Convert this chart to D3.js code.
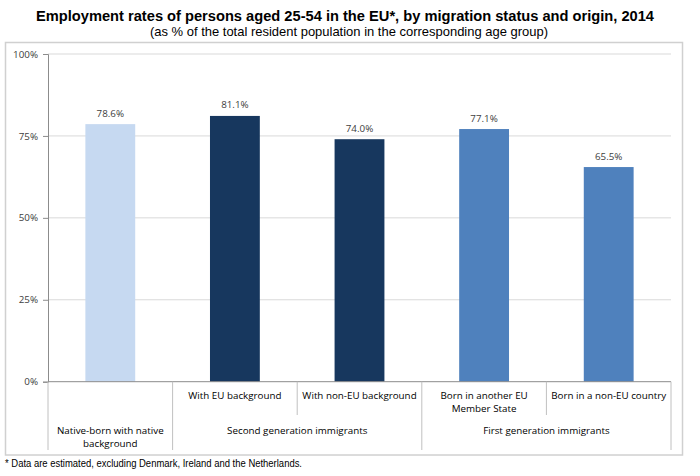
<!DOCTYPE html>
<html><head><meta charset="utf-8">
<script src="https://cdn.jsdelivr.net/npm/d3@7/dist/d3.min.js"></script>
<style>
body{margin:0;background:#fff;}
svg text{font-family:"Open Sans","Noto Sans",sans-serif;}
</style></head>
<body><svg id="c" width="700" height="476"></svg>
<script>
const categories = [["Native-born with native","background"],["With EU background"],["With non-EU background"],["Born in another EU","Member State"],["Born in a non-EU country"]];
const values = [78.6, 81.1, 74.0, 77.1, 65.5];
const colors = ["#c6d9f1", "#17375e", "#17375e", "#4f81bd", "#4f81bd"];
const groups = ["Second generation immigrants", "First generation immigrants"];
const groupStart = [1, 3];
const groupSpan = [2, 2];
const yTicks = [0, 25, 50, 75, 100];

const svg = d3.select("#c");
const m = {l:48, r:671, t:54, b:381.7};
const FS = "9.8px";

svg.append("text").attr("x",345).attr("y",20.5).attr("text-anchor","middle")
  .style("font-family","Liberation Sans, Arial, sans-serif").style("font-weight","bold").style("font-size","14.5px").attr("fill","#000")
  .attr("textLength",618).attr("lengthAdjust","spacingAndGlyphs")
  .text("Employment rates of persons aged 25-54 in the EU*, by migration status and origin, 2014");
svg.append("text").attr("x",349).attr("y",36).attr("text-anchor","middle")
  .style("font-family","Liberation Sans, Arial, sans-serif").style("font-size","13px").attr("fill","#000")
  .attr("textLength",398).attr("lengthAdjust","spacingAndGlyphs")
  .text("(as % of the total resident population in the corresponding age group)");

// outer box
svg.append("rect").attr("x",5.5).attr("y",42.5).attr("width",677).attr("height",412.5)
  .attr("fill","none").attr("stroke","#d0d0d0").attr("stroke-width",1.5);

const idx = d3.range(values.length);
const x = d3.scaleBand().domain(idx).range([m.l, m.r]).paddingInner(0.6).paddingOuter(0.3);
const y = d3.scaleLinear().domain([0,100]).range([m.b, m.t]);
const step = x.step();

// gridlines
svg.append("g").selectAll("line").data(yTicks.filter(d=>d>0)).join("line")
  .attr("x1",m.l).attr("x2",m.r).attr("y1",d=>y(d)).attr("y2",d=>y(d))
  .attr("stroke","#d9d9d9").attr("stroke-width",1);

// y axis
const yAxis = d3.axisLeft(y).tickValues(yTicks).tickFormat(d=>d+"%").tickSize(5).tickPadding(5);
const ga = svg.append("g").attr("transform",`translate(${m.l},0)`).call(yAxis);
ga.select(".domain").attr("stroke","#8c8c8c");
ga.selectAll(".tick line").attr("stroke","#8c8c8c");
ga.selectAll(".tick text").style("font-size",FS).attr("fill","#404040").style("font-family","Open Sans, sans-serif");

// bars
svg.append("g").selectAll("rect").data(idx).join("rect")
  .attr("x",i=>x(i)).attr("width",x.bandwidth())
  .attr("y",i=>y(values[i])).attr("height",i=>y(0)-y(values[i]))
  .attr("fill",i=>colors[i]);

// value labels
svg.append("g").selectAll("text").data(idx).join("text")
  .attr("x",i=>x(i)+x.bandwidth()/2).attr("y",i=>y(values[i])-7.5)
  .attr("text-anchor","middle").style("font-size",FS).attr("fill","#404040")
  .text(i=>values[i].toFixed(1)+"%");

// x axis line
svg.append("line").attr("x1",m.l).attr("x2",m.r).attr("y1",m.b).attr("y2",m.b).attr("stroke","#8c8c8c");

// category separators
const sepX = d3.range(values.length+1).map(k=>m.l+k*step);
const longSep = new Set([0,1,3,5]);
svg.append("g").selectAll("line").data(d3.range(sepX.length)).join("line")
  .attr("x1",k=>sepX[k]).attr("x2",k=>sepX[k]).attr("y1",m.b)
  .attr("y2",k=>longSep.has(k)?450:415).attr("stroke","#c0c0c0");

// level-1 labels (categories 1..4 in row 1, category 0 in row 2)
idx.forEach(i=>{
  const lines = categories[i];
  const cx = x(i)+x.bandwidth()/2;
  const y0 = i===0 ? 434 : 398.5;
  const t = svg.append("text").attr("text-anchor","middle").style("font-size",FS).attr("fill","#000");
  lines.forEach((ln,j)=>t.append("tspan").attr("x",cx).attr("y",y0+j*13).text(ln));
});

// group labels
groups.forEach((g,k)=>{
  const cx = m.l + (groupStart[k] + groupSpan[k]/2)*step;
  svg.append("text").attr("x",cx).attr("y",434).attr("text-anchor","middle")
    .style("font-size",FS).attr("fill","#000").text(g);
});

svg.append("text").attr("x",5).attr("y",467)
  .style("font-family","Liberation Sans, Arial, sans-serif").style("font-size","10px").attr("fill","#000")
  .attr("textLength",297).attr("lengthAdjust","spacingAndGlyphs")
  .text("* Data are estimated, excluding Denmark, Ireland and the Netherlands.");
</script></body></html>
